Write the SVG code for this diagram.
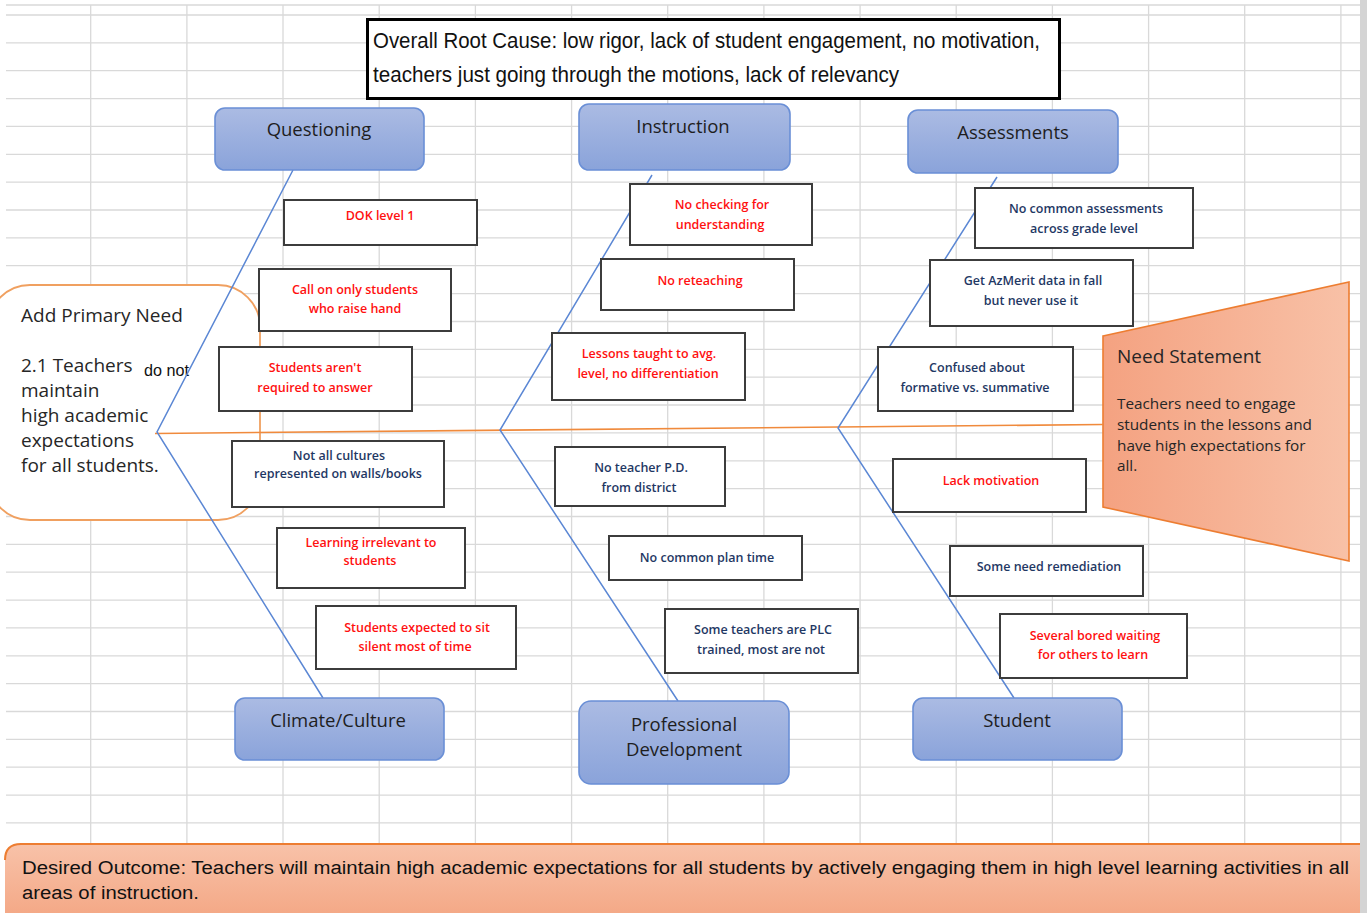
<svg xmlns="http://www.w3.org/2000/svg" width="1367" height="913" viewBox="0 0 1367 913">
<defs>
<linearGradient id="catGrad" x1="0" y1="0" x2="0" y2="1">
<stop offset="0" stop-color="#abbbe3"/>
<stop offset="1" stop-color="#8aa3da"/>
</linearGradient>
<linearGradient id="outGrad" x1="0" y1="0" x2="0" y2="1">
<stop offset="0" stop-color="#f8c2a9"/>
<stop offset="1" stop-color="#f4a987"/>
</linearGradient>
<linearGradient id="needGrad" x1="0" y1="0" x2="1" y2="0">
<stop offset="0" stop-color="#f4a281"/>
<stop offset="1" stop-color="#f8c1a7"/>
</linearGradient>
<style>
.grid{stroke:#d9d9d9;stroke-width:1.3;fill:none}
.cat rect{fill:url(#catGrad);stroke:#6a8fd6;stroke-width:1.6}
.cat text{font-family:"Open Sans","Noto Sans",sans-serif;font-size:18.5px;fill:#1e1e1e;text-anchor:middle}
.cause rect{fill:#ffffff;stroke:#3c3c3c;stroke-width:2}
.cause text{font-family:"Open Sans","Noto Sans",sans-serif;font-size:12.5px;font-weight:600;text-anchor:middle}
.red text{fill:#ff1010}
.navy text{fill:#1f3864}
.bone{stroke:#5b87d4;stroke-width:1.5;fill:none}
.spine{stroke:#f08a3c;stroke-width:1.6;fill:none}
.calibri{font-family:"Liberation Sans Narrow","Liberation Sans",sans-serif;fill:#111}
.body{font-family:"Open Sans","Noto Sans",sans-serif;fill:#262626}
</style>
</defs>
<rect x="0" y="0" width="1367" height="913" fill="#ffffff"/>
<g id="grid">
<path class="grid" d="M6,5H1360M6,15H1360M6,42.9H1360M6,70.7H1360M6,98.6H1360M6,126.4H1360M6,154.3H1360M6,182.2H1360M6,210H1360M6,237.9H1360M6,265.7H1360M6,293.6H1360M6,321.5H1360M6,349.3H1360M6,377.2H1360M6,405H1360M6,432.9H1360M6,460.8H1360M6,488.6H1360M6,516.5H1360M6,544.3H1360M6,572.2H1360M6,600.1H1360M6,627.9H1360M6,655.8H1360M6,683.6H1360M6,711.5H1360M6,739.4H1360M6,767.2H1360M6,795.1H1360M6,822.9H1360"/>
<path class="grid" d="M90.7,5V844M186.9,5V844M283,5V844M379.2,5V844M475.4,5V844M571.6,5V844M667.7,5V844M763.9,5V844M860.1,5V844M956.2,5V844M1052.4,5V844M1148.6,5V844M1244.7,5V844M1340.9,5V844"/>
<rect x="1360" y="0" width="7" height="913" fill="#d4d4d4"/>
</g>
<g id="desired-outcome">
<path d="M5,860 Q5,844 21,844 L1360,844 L1360,913 L5,913 Z" fill="url(#outGrad)"/>
<path d="M5,860 Q5,844 21,844 L1360,844" fill="none" stroke="#ed7d31" stroke-width="2"/>
<text class="calibri" x="22" y="874" font-size="18" textLength="1327" lengthAdjust="spacingAndGlyphs">Desired Outcome:  Teachers will maintain high academic expectations for all students by actively engaging them in high level learning activities in all</text>
<text class="calibri" x="22" y="899" font-size="18" textLength="177" lengthAdjust="spacingAndGlyphs">areas of instruction.</text>
</g>
<g id="primary-need">
<rect x="-12" y="285" width="272" height="235" rx="42" ry="42" fill="#ffffff" stroke="#f0a060" stroke-width="1.8"/>
<text class="body" x="21" y="322" font-size="19">Add Primary Need</text>
<text class="body" x="21" y="372" font-size="19">2.1 Teachers</text>
<text class="calibri" x="144" y="376" font-size="16.5" textLength="45" lengthAdjust="spacingAndGlyphs">do not</text>
<text class="body" x="21" y="397" font-size="19">maintain</text>
<text class="body" x="21" y="422" font-size="19">high academic</text>
<text class="body" x="21" y="447" font-size="19">expectations</text>
<text class="body" x="21" y="472" font-size="19">for all students.</text>
</g>
<g id="need-statement">
<polygon points="1103,336 1349,282 1349,561 1103,507" fill="url(#needGrad)" stroke="#ed7d31" stroke-width="1.6"/>
<text class="body" x="1117" y="363" font-size="19">Need Statement</text>
<text class="body" x="1117" y="409" font-size="15.3">Teachers need to engage</text>
<text class="body" x="1117" y="430" font-size="15.3">students in the lessons and</text>
<text class="body" x="1117" y="451" font-size="15.3">have high expectations for</text>
<text class="body" x="1117" y="471" font-size="15.3">all.</text>
</g>
<g id="connectors">
<line class="spine" x1="155" y1="433.5" x2="1103" y2="424.5"/>
<polyline class="bone" points="293,170 157,432 323,698"/>
<polyline class="bone" points="652,175 500,430 678,701"/>
<polyline class="bone" points="997,177 838,428 1014,698"/>
</g>
<g id="root-cause">
<rect x="367.5" y="19.5" width="692" height="79" fill="#ffffff" stroke="#000000" stroke-width="3"/>
<text class="calibri" x="373" y="48" font-size="22" textLength="667" lengthAdjust="spacingAndGlyphs">Overall Root Cause: low rigor, lack of student engagement, no motivation,</text>
<text class="calibri" x="373" y="82" font-size="22" textLength="526" lengthAdjust="spacingAndGlyphs">teachers just going through the motions, lack of relevancy</text>
</g>
<g id="cat-questioning" class="cat"><rect x="215" y="108" width="209" height="62" rx="10"/><text x="319" y="136">Questioning</text></g>
<g id="cat-instruction" class="cat"><rect x="579" y="104" width="211" height="66" rx="10"/><text x="683" y="133">Instruction</text></g>
<g id="cat-assessments" class="cat"><rect x="908" y="110" width="210" height="63" rx="10"/><text x="1013" y="139">Assessments</text></g>
<g id="cat-climate" class="cat"><rect x="235" y="698" width="209" height="62" rx="10"/><text x="338" y="727">Climate/Culture</text></g>
<g id="cat-pd" class="cat"><rect x="579" y="701" width="210" height="83" rx="12"/><text x="684" y="731">Professional</text><text x="684" y="756">Development</text></g>
<g id="cat-student" class="cat"><rect x="913" y="698" width="209" height="62" rx="10"/><text x="1017" y="727">Student</text></g>
<g id="cause-dok" class="cause red"><rect x="284" y="200" width="193" height="45"/><text x="380" y="220">DOK level 1</text></g>
<g id="cause-call" class="cause red"><rect x="259" y="269" width="192" height="62"/><text x="355" y="294">Call on only students</text><text x="355" y="313">who raise hand</text></g>
<g id="cause-answer" class="cause red"><rect x="219" y="347" width="193" height="64"/><text x="315" y="372">Students aren't</text><text x="315" y="392">required to answer</text></g>
<g id="cause-cultures" class="cause navy"><rect x="232" y="441" width="212" height="66"/><text x="339" y="460">Not all cultures</text><text x="338" y="478">represented on walls/books</text></g>
<g id="cause-irrelevant" class="cause red"><rect x="277" y="528" width="188" height="60"/><text x="371" y="547">Learning irrelevant to</text><text x="370" y="565">students</text></g>
<g id="cause-silent" class="cause red"><rect x="316" y="606" width="200" height="63"/><text x="417" y="632">Students expected to sit</text><text x="415" y="651">silent most of time</text></g>
<g id="cause-checking" class="cause red"><rect x="630" y="184" width="182" height="61"/><text x="722" y="209">No checking for</text><text x="720" y="229">understanding</text></g>
<g id="cause-reteaching" class="cause red"><rect x="601" y="259" width="193" height="51"/><text x="700" y="285">No reteaching</text></g>
<g id="cause-lessons" class="cause red"><rect x="552" y="333" width="193" height="67"/><text x="649" y="358">Lessons taught to avg.</text><text x="648" y="378">level, no differentiation</text></g>
<g id="cause-nopd" class="cause navy"><rect x="555" y="447" width="170" height="59"/><text x="641" y="472">No teacher P.D.</text><text x="639" y="492">from district</text></g>
<g id="cause-plan" class="cause navy"><rect x="609" y="536" width="193" height="44"/><text x="707" y="562">No common plan time</text></g>
<g id="cause-plc" class="cause navy"><rect x="665" y="609" width="193" height="64"/><text x="763" y="634">Some teachers are PLC</text><text x="761" y="654">trained, most are not</text></g>
<g id="cause-common" class="cause navy"><rect x="975" y="188" width="218" height="60"/><text x="1086" y="213">No common assessments</text><text x="1084" y="233">across grade level</text></g>
<g id="cause-azmerit" class="cause navy"><rect x="930" y="260" width="203" height="66"/><text x="1033" y="285">Get AzMerit data in fall</text><text x="1031" y="305">but never use it</text></g>
<g id="cause-formative" class="cause navy"><rect x="878" y="347" width="195" height="64"/><text x="977" y="372">Confused about</text><text x="975" y="392">formative vs. summative</text></g>
<g id="cause-motivation" class="cause red"><rect x="893" y="459" width="193" height="53"/><text x="991" y="485">Lack motivation</text></g>
<g id="cause-remediation" class="cause navy"><rect x="950" y="546" width="193" height="50"/><text x="1049" y="571">Some need remediation</text></g>
<g id="cause-bored" class="cause red"><rect x="1000" y="614" width="187" height="64"/><text x="1095" y="640">Several bored waiting</text><text x="1093" y="659">for others to learn</text></g>
</svg>
